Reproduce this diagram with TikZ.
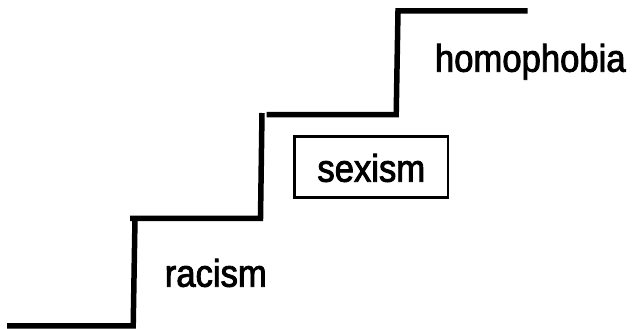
\documentclass[tikz,border=0pt]{standalone}
\usepackage{fontspec}
\setmainfont{Liberation Sans}[FakeStretch=0.9,FakeBold=2.2]
\begin{document}
\begin{tikzpicture}[x=1pt,y=-1pt,
  stair/.style={line width=5.5pt,line join=miter,line cap=butt},
  lbl/.style={inner sep=0pt,anchor=base,font=\fontsize{38.5}{40}\selectfont}]
\useasboundingbox (0,0) rectangle (632,329);
% stair corners
\coordinate (a0) at (7,325.8);
\coordinate (a1) at (133.2,325.8);
\coordinate (a2) at (135,218.3);
\coordinate (b0) at (130,218.3);
\coordinate (b1) at (260.5,218.3);
\coordinate (b2) at (262,113);
\coordinate (c0) at (266.7,114.5);
\coordinate (c1) at (396.2,114.5);
\coordinate (c2) at (398,11);
\coordinate (c3) at (527.7,11);
\draw[stair] (a0) -- (a1) -- (a2);
\draw[stair] (b0) -- (b1) -- (b2);
\draw[stair] (c0) -- (c1) -- (c2) -- (c3);
% labels
\node[lbl] (racism) at (215.8,286.7) {racism};
\node[lbl] (homophobia) at (530.3,71.7) {homophobia};
\node[inner sep=0pt,draw,line width=2.7pt,minimum width=153.3pt,minimum height=61.4pt,
  text height=29.4pt,text depth=0pt,font=\fontsize{38.5}{40}\selectfont] (sexism) at (371.3,167) {sexism};
\end{tikzpicture}
\end{document}
